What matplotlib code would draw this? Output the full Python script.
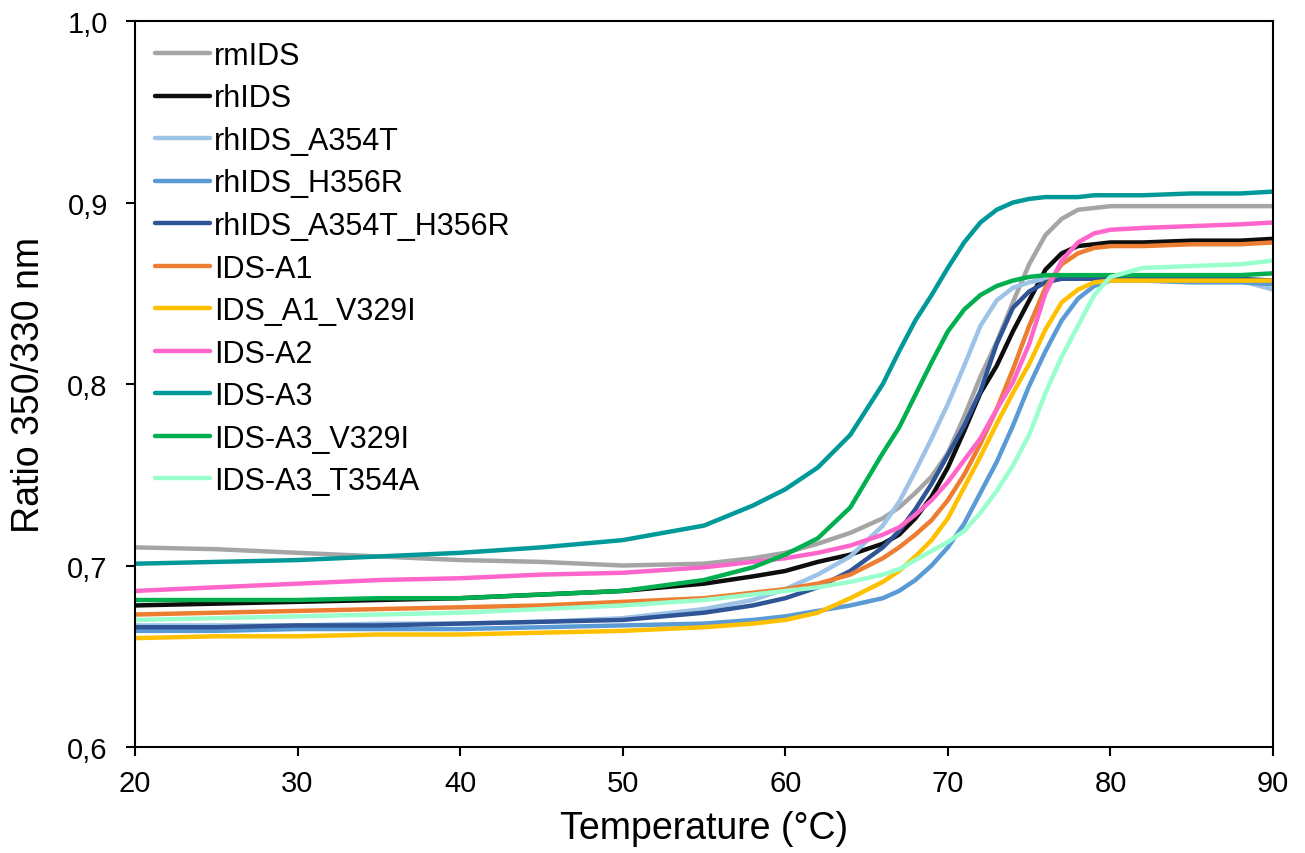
import matplotlib
matplotlib.use('Agg')
import matplotlib.pyplot as plt

plt.rcParams['font.family'] = ['Liberation Sans', 'DejaVu Sans']

# temperature grid (°C) used for every curve
temps = [20, 25, 30, 35, 40, 45, 50, 55, 58, 60, 62, 64, 66, 67, 68, 69, 70,
         71, 72, 73, 74, 75, 76, 77, 78, 79, 80, 82, 85, 88, 90]

rmIDS = [.710, .709, .707, .705, .703, .702, .700, .701, .704, .707, .712, .718, .726, .732, .740, .749, .762,
         .782, .804, .823, .845, .866, .882, .891, .896, .897, .898, .898, .898, .898, .898]
rhIDS = [.678, .679, .680, .681, .682, .684, .686, .690, .694, .697, .702, .706, .712, .717, .726, .738, .754,
         .774, .795, .810, .829, .846, .863, .872, .876, .877, .878, .878, .879, .879, .880]
rhIDS_A354T = [.667, .667, .667, .668, .668, .669, .671, .676, .681, .687, .695, .705, .722, .735, .752, .770, .789,
               .810, .832, .846, .853, .856, .858, .858, .858, .858, .858, .858, .857, .857, .852]
rhIDS_H356R = [.664, .664, .665, .665, .665, .666, .667, .668, .670, .672, .675, .678, .682, .686, .692, .700, .710,
               .723, .740, .757, .777, .799, .818, .835, .847, .854, .857, .857, .856, .856, .855]
rhIDS_A354T_H356R = [.666, .666, .667, .667, .668, .669, .670, .674, .678, .682, .688, .697, .710, .719, .731, .745, .761,
                     .777, .796, .822, .842, .851, .856, .858, .858, .858, .858, .858, .858, .858, .857]
IDS_A1 = [.673, .674, .675, .676, .677, .678, .680, .682, .685, .687, .690, .695, .704, .710, .717, .725, .736,
          .750, .767, .786, .808, .832, .853, .866, .872, .875, .876, .876, .877, .877, .878]
IDS_A1_V329I = [.660, .661, .661, .662, .662, .663, .664, .666, .668, .670, .674, .682, .691, .697, .705, .714, .726,
                .743, .760, .778, .795, .811, .830, .845, .852, .856, .857, .857, .857, .857, .857]
IDS_A2 = [.686, .688, .690, .692, .693, .695, .696, .699, .702, .704, .707, .711, .717, .721, .728, .736, .746,
          .758, .770, .786, .801, .822, .850, .868, .878, .883, .885, .886, .887, .888, .889]
IDS_A3 = [.701, .702, .703, .705, .707, .710, .714, .722, .733, .742, .754, .772, .800, .818, .835, .849, .864,
          .878, .889, .896, .900, .902, .903, .903, .903, .904, .904, .904, .905, .905, .906]
IDS_A3_V329I = [.681, .681, .681, .682, .682, .684, .686, .692, .699, .706, .715, .732, .762, .776, .794, .812, .829,
                .841, .849, .854, .857, .859, .860, .860, .860, .860, .860, .860, .860, .860, .861]
IDS_A3_T354A = [.670, .671, .672, .673, .674, .676, .678, .681, .684, .686, .688, .691, .695, .698, .703, .708, .713,
                .719, .729, .741, .755, .772, .795, .815, .832, .849, .859, .864, .865, .866, .868]

labels = ["rmIDS", "rhIDS", "rhIDS_A354T", "rhIDS_H356R", "rhIDS_A354T_H356R", "IDS-A1",
          "IDS_A1_V329I", "IDS-A2", "IDS-A3", "IDS-A3_V329I", "IDS-A3_T354A"]
series = [rmIDS, rhIDS, rhIDS_A354T, rhIDS_H356R, rhIDS_A354T_H356R, IDS_A1,
          IDS_A1_V329I, IDS_A2, IDS_A3, IDS_A3_V329I, IDS_A3_T354A]
colors = ["#A5A5A5", "#0D0D0D", "#9DC3E6", "#5B9BD5", "#2F5597", "#ED7D31",
          "#FFC000", "#FF66CC", "#009999", "#00B050", "#99FFCC"]

yticks = [0.6, 0.7, 0.8, 0.9, 1.0]
ytick_labels = ["0,6", "0,7", "0,8", "0,9", "1,0"]
xticks = [20, 30, 40, 50, 60, 70, 80, 90]

fig = plt.figure(figsize=(13.05, 8.54), dpi=100)
ax = fig.add_axes([0.1034, 0.1241, 0.8721, 0.8501])

for y, lab, c in zip(series, labels, colors):
    ax.plot(temps, y, color=c, lw=3.2, label=lab, solid_capstyle='round')

ax.set_xlim(20, 90)
ax.set_ylim(0.6, 1.0)
ax.set_xticks(xticks)
ax.set_yticks(yticks)
ax.set_yticklabels(ytick_labels)
ax.tick_params(direction='out', length=6.5, width=1.5, labelsize=21)
ax.tick_params(axis='x', pad=9)
ax.tick_params(axis='y', pad=13)
for s in ax.spines.values():
    s.set_linewidth(1.5)

ax.set_xlabel("Temperature (°C)", fontsize=27, labelpad=10)
ax.set_ylabel("Ratio 350/330 nm", fontsize=27, labelpad=15)

leg = ax.legend(loc='upper left', frameon=False, fontsize=22, handlelength=1.8,
                handletextpad=0.13, labelspacing=0.41, borderaxespad=0.25,
                bbox_to_anchor=(0.0, 1.0))

plt.savefig("out.png", dpi=100)
